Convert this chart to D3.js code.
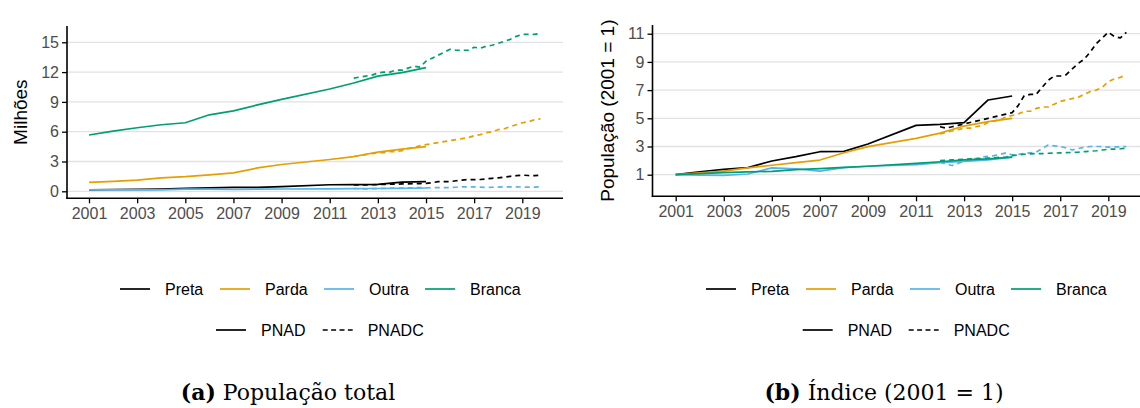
<!DOCTYPE html>
<html>
<head>
<meta charset="utf-8">
<script src="https://cdn.jsdelivr.net/npm/d3@7/dist/d3.min.js"></script>
<style>
  html, body { margin: 0; padding: 0; background: #ffffff; }
  svg { display: block; }
  text { font-family: "Liberation Sans", Arial, sans-serif; }
</style>
</head>
<body>
<svg id="chart" width="1140" height="408"></svg>
<script>
// ---------------- DATA ----------------
const seriesNames = ["Preta", "Parda", "Outra", "Branca"];
const seriesColors = ["#000000", "#E69F00", "#56B4E9", "#009E73"];
const sourceNames = ["PNAD", "PNADC"];

const xTicks = [2001, 2003, 2005, 2007, 2009, 2011, 2013, 2015, 2017, 2019];
const yTicksTotal = [0, 3, 6, 9, 12, 15];
const yTicksIndex = [1, 3, 5, 7, 9, 11];

// PNAD (annual, no survey in 2010)
const pnadYears = [2001, 2002, 2003, 2004, 2005, 2006, 2007, 2008, 2009, 2011, 2012, 2013, 2014, 2015];
// PNADC (quarterly)
const pnadcQuarters = [2012, 2012.25, 2012.5, 2012.75, 2013, 2013.25, 2013.5, 2013.75,
                       2014, 2014.25, 2014.5, 2014.75, 2015, 2015.25, 2015.5, 2015.75,
                       2016, 2016.25, 2016.5, 2016.75, 2017, 2017.25, 2017.5, 2017.75,
                       2018, 2018.25, 2018.5, 2018.75, 2019, 2019.25, 2019.5, 2019.75];

// (a) Population, millions — PNAD
const pnadPretaTotal  = [0.15, 0.18, 0.20, 0.22, 0.29, 0.34, 0.39, 0.39, 0.47, 0.66, 0.67, 0.69, 0.93, 0.97];
const pnadPardaTotal  = [0.90, 1.00, 1.12, 1.35, 1.47, 1.65, 1.85, 2.35, 2.70, 3.20, 3.50, 3.95, 4.25, 4.50];
const pnadOutraTotal  = [0.145, 0.14, 0.14, 0.15, 0.21, 0.21, 0.18, 0.22, 0.23, 0.25, 0.27, 0.28, 0.30, 0.33];
const pnadBrancaTotal = [5.67, 6.05, 6.40, 6.70, 6.90, 7.70, 8.10, 8.70, 9.25, 10.30, 10.90, 11.60, 11.95, 12.45];

// (a) Population, millions — PNADC
const pnadcPretaTotal  = [0.65, 0.63, 0.65, 0.66, 0.68, 0.69, 0.71, 0.72, 0.74, 0.75, 0.76, 0.78,
                          0.79, 0.87, 0.97, 0.98, 0.98, 1.06, 1.13, 1.18, 1.18, 1.19, 1.25, 1.31,
                          1.35, 1.43, 1.51, 1.57, 1.63, 1.59, 1.57, 1.63];
const pnadcPardaTotal  = [3.5, 3.6, 3.7, 3.8, 3.9, 3.9, 4.0, 4.0, 4.1, 4.3, 4.4, 4.6,
                          4.7, 4.8, 4.9, 5.0, 5.1, 5.2, 5.3, 5.4, 5.6, 5.7, 5.9, 6.0,
                          6.2, 6.3, 6.5, 6.7, 6.9, 7.0, 7.2, 7.3];
const pnadcOutraTotal  = [0.28, 0.25, 0.24, 0.26, 0.28, 0.30, 0.31, 0.33, 0.33, 0.34, 0.36, 0.37,
                          0.35, 0.36, 0.36, 0.37, 0.38, 0.41, 0.45, 0.44, 0.44, 0.42, 0.40, 0.41,
                          0.43, 0.44, 0.44, 0.44, 0.43, 0.43, 0.43, 0.44];
const pnadcBrancaTotal = [11.4, 11.5, 11.6, 11.7, 11.9, 12.0, 12.0, 12.2, 12.2, 12.4, 12.6, 12.5,
                          13.1, 13.4, 13.7, 14.0, 14.3, 14.2, 14.2, 14.2, 14.5, 14.4, 14.6, 14.7,
                          14.9, 15.1, 15.3, 15.6, 15.8, 15.8, 15.8, 15.9];

// (b) Index (2001 = 1) — PNAD
const pnadPretaIndex  = [1, 1.2, 1.38, 1.5, 1.97, 2.28, 2.63, 2.65, 3.18, 4.5, 4.57, 4.7, 6.3, 6.58];
const pnadPardaIndex  = [1, 1.13, 1.26, 1.48, 1.67, 1.85, 2.04, 2.56, 2.99, 3.58, 3.95, 4.45, 4.76, 5.0];
const pnadOutraIndex  = [1, 0.97, 0.95, 1.05, 1.48, 1.42, 1.25, 1.5, 1.6, 1.72, 1.85, 1.95, 2.05, 2.25];
const pnadBrancaIndex = [1, 1.08, 1.15, 1.2, 1.24, 1.36, 1.43, 1.52, 1.6, 1.8, 1.92, 2.05, 2.12, 2.25];

// (b) Index (2001 = 1) — PNADC
const pnadcPretaIndex  = [4.4, 4.3, 4.4, 4.5, 4.6, 4.7, 4.8, 4.9, 5.0, 5.1, 5.2, 5.3,
                          5.4, 5.9, 6.6, 6.7, 6.7, 7.2, 7.7, 8.0, 8.0, 8.1, 8.5, 8.9,
                          9.2, 9.7, 10.3, 10.7, 11.1, 10.8, 10.7, 11.1];
const pnadcPardaIndex  = [3.9, 4.0, 4.1, 4.2, 4.3, 4.3, 4.4, 4.5, 4.7, 4.8, 4.9, 5.1,
                          5.2, 5.3, 5.5, 5.5, 5.7, 5.8, 5.8, 6.0, 6.2, 6.3, 6.4, 6.5,
                          6.7, 6.9, 7.0, 7.2, 7.6, 7.8, 7.9, 8.1];
const pnadcOutraIndex  = [1.9, 1.75, 1.65, 1.8, 1.95, 2.1, 2.15, 2.25, 2.3, 2.35, 2.45, 2.55,
                          2.4, 2.45, 2.5, 2.55, 2.6, 2.85, 3.1, 3.05, 3.0, 2.9, 2.75, 2.85,
                          2.95, 3.0, 3.0, 3.0, 2.95, 2.98, 2.97, 3.0];
const pnadcBrancaIndex = [2.0, 2.03, 2.05, 2.07, 2.1, 2.12, 2.13, 2.15, 2.18, 2.2, 2.23, 2.25,
                          2.35, 2.4, 2.45, 2.48, 2.5, 2.5, 2.52, 2.53, 2.55, 2.56, 2.58, 2.6,
                          2.63, 2.67, 2.7, 2.75, 2.8, 2.82, 2.84, 2.87];

// ---------------- DRAWING ----------------
const svg = d3.select("#chart");
const GREY_TXT = "#4d4d4d";

function drawPanel(cfg) {
  const g = svg.append("g");
  const x = d3.scaleLinear().domain(cfg.xDom).range(cfg.xRange);
  const y = d3.scaleLinear().domain(cfg.yDom).range(cfg.yRange);

  // gridlines
  g.selectAll("line.grid").data(cfg.yTicks).enter().append("line")
    .attr("x1", cfg.left).attr("x2", cfg.right)
    .attr("y1", d => y(d)).attr("y2", d => y(d))
    .attr("stroke", "#e2e2e2").attr("stroke-width", 1.3);

  // lines
  const line = d3.line().x(d => x(d[0])).y(d => y(d[1]));
  seriesNames.forEach((name, i) => {
    const a = pnadYears.map((yr, k) => [yr, cfg.pnad[i][k]]);
    g.append("path").datum(a).attr("d", line)
      .attr("fill", "none").attr("stroke", seriesColors[i]).attr("stroke-width", 1.7)
      .attr("stroke-linejoin", "round");
    const b = pnadcQuarters.map((q, k) => [q, cfg.pnadc[i][k]]);
    g.append("path").datum(b).attr("d", line)
      .attr("fill", "none").attr("stroke", seriesColors[i]).attr("stroke-width", 1.7)
      .attr("stroke-dasharray", "5,4").attr("stroke-linejoin", "round");
  });

  // y axis
  const ya = g.append("g").attr("transform", `translate(${cfg.left},0)`)
    .call(d3.axisLeft(y).tickValues(cfg.yTicks).tickSize(5).tickPadding(3).tickFormat(d3.format("d")));
  ya.select(".domain").remove();
  ya.selectAll(".tick line").attr("stroke", "#000").attr("stroke-width", 1.3);
  ya.selectAll(".tick text").attr("fill", GREY_TXT).style("font-size", "16px")
    .style("font-family", "Liberation Sans, Arial, sans-serif");

  // x axis
  const xa = g.append("g").attr("transform", `translate(0,${cfg.bottom})`)
    .call(d3.axisBottom(x).tickValues(xTicks).tickSize(5).tickPadding(4).tickFormat(d3.format("d")));
  xa.select(".domain").remove();
  xa.selectAll(".tick line").attr("stroke", "#000").attr("stroke-width", 1.3);
  xa.selectAll(".tick text").attr("fill", GREY_TXT).style("font-size", "16px")
    .style("font-family", "Liberation Sans, Arial, sans-serif");

  // axis lines
  g.append("line").attr("x1", cfg.left).attr("x2", cfg.left)
    .attr("y1", cfg.top).attr("y2", cfg.bottom + 0.75)
    .attr("stroke", "#000").attr("stroke-width", 1.6);
  g.append("line").attr("x1", cfg.left - 0.75).attr("x2", cfg.right)
    .attr("y1", cfg.bottom).attr("y2", cfg.bottom)
    .attr("stroke", "#000").attr("stroke-width", 1.6);

  // y title
  g.append("text")
    .attr("transform", `translate(${cfg.titleX},${(cfg.top + cfg.bottom) / 2}) rotate(-90)`)
    .attr("text-anchor", "middle").attr("dy", "0.35em")
    .style("font-size", "19px").attr("fill", "#000")
    .text(cfg.yTitle);

  // legend row 1: colours
  seriesNames.forEach((name, i) => {
    const lx = cfg.legendKeys[i];
    g.append("line").attr("x1", lx).attr("x2", lx + 30)
      .attr("y1", cfg.legendY1).attr("y2", cfg.legendY1)
      .attr("stroke", seriesColors[i]).attr("stroke-width", 1.7);
    g.append("text").attr("x", lx + 45).attr("y", cfg.legendY1).attr("dy", "0.35em")
      .style("font-size", "16px").attr("fill", "#000").text(name);
  });
  // legend row 2: line type
  sourceNames.forEach((name, i) => {
    const lx = cfg.legendKeys2[i];
    g.append("line").attr("x1", lx).attr("x2", lx + 30)
      .attr("y1", cfg.legendY2).attr("y2", cfg.legendY2)
      .attr("stroke", "#000").attr("stroke-width", 1.7)
      .attr("stroke-dasharray", i === 1 ? "5,3.4" : null);
    g.append("text").attr("x", lx + 45).attr("y", cfg.legendY2).attr("dy", "0.35em")
      .style("font-size", "16px").attr("fill", "#000").text(name);
  });

  // caption
  const cap = g.append("text").attr("x", cfg.capX).attr("y", 400)
    .attr("text-anchor", "middle")
    .style("font-family", "'DejaVu Serif', 'Liberation Serif', serif")
    .style("font-size", "22px").attr("fill", "#000");
  cap.append("tspan").style("font-weight", "bold").text(cfg.capTag);
  cap.append("tspan").text(" " + cfg.capText);
}

drawPanel({
  xDom: [2001, 2019], xRange: [89, 522.3],
  yDom: [0, 15], yRange: [191.3, 42.3],
  left: 67, right: 563, top: 26, bottom: 198.3,
  yTicks: yTicksTotal,
  pnad: [pnadPretaTotal, pnadPardaTotal, pnadOutraTotal, pnadBrancaTotal],
  pnadc: [pnadcPretaTotal, pnadcPardaTotal, pnadcOutraTotal, pnadcBrancaTotal],
  titleX: 20.5, yTitle: "Milhões",
  legendKeys: [120, 220, 324, 425], legendY1: 289,
  legendKeys2: [216, 322.7], legendY2: 330,
  capX: 288, capTag: "(a)", capText: "População total"
});

drawPanel({
  xDom: [2001, 2019], xRange: [675.7, 1108.3],
  yDom: [1, 11], yRange: [174.7, 33.7],
  left: 652.5, right: 1150, top: 25, bottom: 196.3,
  yTicks: yTicksIndex,
  pnad: [pnadPretaIndex, pnadPardaIndex, pnadOutraIndex, pnadBrancaIndex],
  pnadc: [pnadcPretaIndex, pnadcPardaIndex, pnadcOutraIndex, pnadcBrancaIndex],
  titleX: 607, yTitle: "População (2001 = 1)",
  legendKeys: [706, 806, 910, 1011], legendY1: 289,
  legendKeys2: [802.7, 908.7], legendY2: 330,
  capX: 884, capTag: "(b)", capText: "Índice (2001 = 1)"
});
</script>
</body>
</html>
